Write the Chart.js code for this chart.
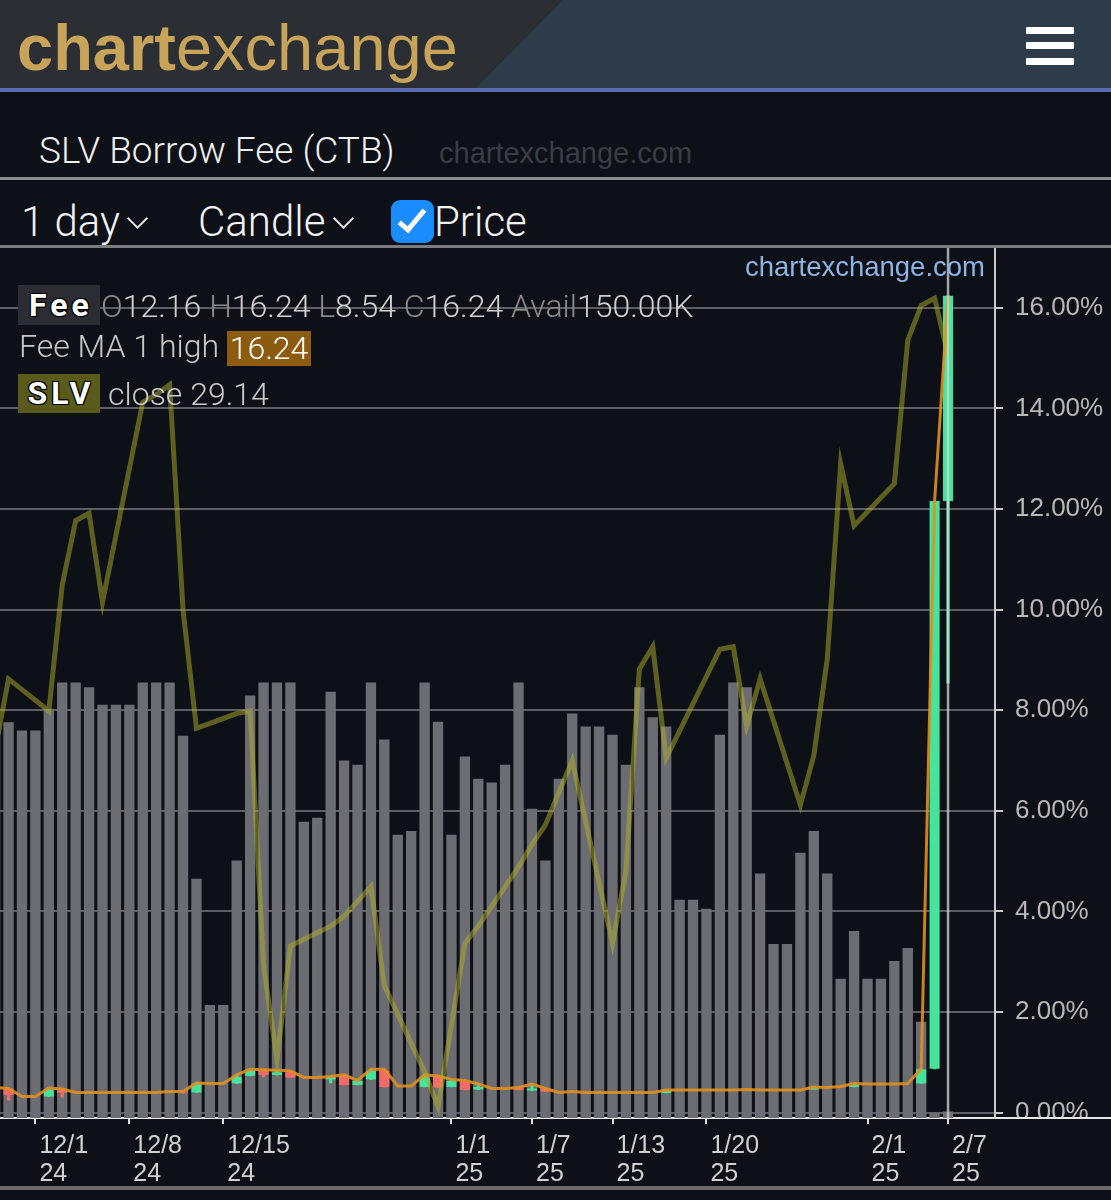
<!DOCTYPE html>
<html>
<head>
<meta charset="utf-8">
<script src="https://cdn.jsdelivr.net/npm/chart.js@4.4.1/dist/chart.umd.min.js"></script>
<style>
  html, body { margin: 0; padding: 0; background: #0d1017; width: 1111px; height: 1200px; overflow: hidden; }
  body { position: relative; font-family: Roboto, "Liberation Sans", sans-serif; }
  .abs { position: absolute; white-space: nowrap; }
  #hdr { left: 0; top: 0; width: 1111px; height: 88px; background: #2e3b4b; }
  #hdrL { left: 0; top: 0; width: 1111px; height: 88px; background: #2b2e33; clip-path: polygon(0 0, 563px 0, 476px 88px, 0 88px); }
  #logo { left: 17px; top: 15px; font: 65px/65px "Liberation Sans", sans-serif; color: #c7a45a; }
  #logo b { font-weight: bold; }
  .burger { left: 1026px; width: 48px; height: 7px; background: #fff; border-radius: 1px; }
  .chev { width: 13px; height: 13px; border-right: 2px solid #e6e6e6; border-bottom: 2px solid #e6e6e6; transform: rotate(45deg); }
  .badge { color: #fff; font: bold 32px/40px Roboto, sans-serif; letter-spacing: 4px; text-align: center; box-sizing: border-box; padding-left: 4px;
           text-shadow: -1px -1px 0 #000, 1px -1px 0 #000, -1px 1px 0 #000, 1px 1px 0 #000, 0 0 2px #000; }
  .lg { font: 300 32px/32px Roboto, sans-serif; color: #d0d0d0; }
  .lg .k { color: #8a8a8a; }
  #wrap { position: absolute; left: -25px; top: 248px; width: 1136px; height: 940px; }
</style>
</head>
<body>
<div id="hdr" class="abs"></div>
<div id="hdrL" class="abs"></div>
<div id="logo" class="abs"><b>chart</b>exchange</div>
<div class="abs burger" style="top:27px"></div>
<div class="abs burger" style="top:42px"></div>
<div class="abs burger" style="top:58px"></div>
<div class="abs" style="left:0;top:88px;width:1111px;height:4px;background:#5b6db0"></div>

<div class="abs" style="left:39px;top:132px;font:300 37px/37px Roboto,sans-serif;color:#f0f0f0">SLV Borrow Fee (CTB)</div>
<div class="abs" style="left:439px;top:139px;font:29px/29px 'Liberation Sans',sans-serif;color:#3a3d44">chartexchange.com</div>
<div class="abs" style="left:0;top:177px;width:1111px;height:3px;background:#8a8c90"></div>

<div class="abs" style="left:21px;top:201px;font:300 42px/42px Roboto,sans-serif;color:#f2f2f2">1 day</div>
<div class="abs chev" style="left:130px;top:211px"></div>
<div class="abs" style="left:198px;top:201px;font:300 42px/42px Roboto,sans-serif;color:#f2f2f2">Candle</div>
<div class="abs chev" style="left:336px;top:211px"></div>
<div class="abs" style="left:391px;top:200px;width:43px;height:43px;background:#1a8cff;border-radius:9px"></div>
<div class="abs" style="left:405px;top:204px;width:9px;height:23px;border-right:5px solid #fff;border-bottom:5px solid #fff;transform:rotate(40deg)"></div>
<div class="abs" style="left:434px;top:201px;font:300 42px/42px Roboto,sans-serif;color:#f2f2f2">Price</div>
<div class="abs" style="left:0;top:245px;width:1111px;height:3px;background:#7a7c80"></div>

<div id="wrap"><canvas id="chart"></canvas></div>

<div class="abs" style="left:745px;top:253px;font:27.5px/27.5px 'Liberation Sans',sans-serif;color:#8db4e2">chartexchange.com</div>

<div class="abs badge" style="left:18px;top:285px;width:82px;height:40px;background:#2b2d32">Fee</div>
<div class="abs lg" id="row1" style="left:101px;top:290px"></div>
<div class="abs lg" style="left:19px;top:330px;color:#c8c8c8">Fee MA 1 high</div>
<div class="abs lg" id="row2" style="left:227px;top:331px;width:84px;height:35px;line-height:35px;text-align:center;background:#8d5b0f;color:#fff"></div>
<div class="abs badge" style="left:18px;top:374px;width:82px;height:39px;line-height:39px;background:#5a5a1b">SLV</div>
<div class="abs lg" id="row3" style="left:108px;top:378px;color:#c8c8c8"></div>

<div class="abs" style="left:995px;top:1117px;width:116px;height:2px;background:#e8e8e8"></div>
<div class="abs" style="left:997px;top:1119px;width:114px;height:66px;background:#0d1017"></div>
<div class="abs" style="left:0;top:1186px;width:1111px;height:4px;background:#6b6b6b"></div>

<script>
// one category per calendar day, 11/27/24 .. 2/10/25
const labels = [
  '11/27','11/28','11/29','11/30',
  '12/1','12/2','12/3','12/4','12/5','12/6','12/7','12/8','12/9','12/10','12/11','12/12','12/13','12/14','12/15','12/16',
  '12/17','12/18','12/19','12/20','12/21','12/22','12/23','12/24','12/25','12/26','12/27','12/28','12/29','12/30','12/31',
  '1/1','1/2','1/3','1/4','1/5','1/6','1/7','1/8','1/9','1/10','1/11','1/12','1/13','1/14','1/15','1/16',
  '1/17','1/18','1/19','1/20','1/21','1/22','1/23','1/24','1/25','1/26','1/27','1/28','1/29','1/30','1/31',
  '2/1','2/2','2/3','2/4','2/5','2/6','2/7','2/8','2/9','2/10'
];
const tickDates = ['12/1','12/8','12/15','1/1','1/7','1/13','1/20','2/1','2/7'];
const tickYears = ['24','24','24','25','25','25','25','25','25'];
const feeTicks = [0, 2, 4, 6, 8, 10, 12, 14, 16];
const crosshairDate = '2/7';

// borrow fee candles (%)
const feeOpen = [.50,.50,.48,.32,.32,.32,.45,.40,.40,.40,.40,.40,.40,.40,.40,.42,.40,.58,.58,.58,.73,.83,.75,.80,.70,.70,.66,.73,.55,.66,.83,.53,.53,.51,.73,.51,.61,.46,.48,.48,.49,.44,.48,.40,.41,.40,.40,.40,.40,.40,.40,.39,.45,.45,.45,.45,.45,.46,.45,.45,.45,.45,.46,.50,.52,.51,.57,.57,.57,.58,.58,.87,12.16];
const feeHigh = [.52,.50,.48,.32,.32,.49,.47,.40,.40,.40,.40,.40,.40,.40,.42,.42,.59,.58,.58,.75,.86,.85,.84,.83,.70,.70,.72,.75,.64,.86,.86,.53,.53,.75,.73,.66,.64,.57,.48,.48,.50,.57,.48,.40,.42,.40,.40,.40,.40,.40,.40,.45,.45,.45,.45,.45,.45,.46,.45,.45,.45,.45,.51,.50,.52,.58,.57,.57,.57,.58,.87,12.16,16.24];
const feeLow = [.48,.48,.25,.32,.32,.32,.31,.40,.40,.40,.40,.40,.40,.40,.40,.39,.40,.58,.58,.58,.73,.71,.75,.70,.70,.70,.59,.55,.55,.66,.51,.53,.53,.51,.50,.51,.45,.46,.48,.48,.45,.44,.42,.40,.40,.40,.40,.40,.40,.40,.40,.39,.45,.45,.45,.45,.45,.45,.45,.45,.45,.45,.46,.50,.50,.51,.57,.57,.57,.58,.58,.87,8.54];
const feeClose = [.50,.48,.35,.32,.32,.46,.40,.40,.40,.40,.40,.40,.40,.40,.42,.40,.58,.58,.58,.71,.83,.75,.80,.70,.70,.70,.71,.55,.63,.83,.51,.53,.53,.70,.50,.63,.45,.51,.48,.48,.45,.48,.42,.40,.40,.40,.40,.40,.40,.40,.40,.45,.45,.45,.45,.45,.45,.45,.45,.45,.45,.45,.50,.50,.50,.57,.57,.57,.57,.58,.86,12.16,16.24];

// shares available to borrow (K)
const avail = [9100,9090,9100,8910,8910,9410,10010,10010,9900,9500,9500,9500,10010,10010,10010,8790,5500,2600,2600,5920,
  9710,10010,10010,10010,6810,6900,9800,8220,8120,10010,8700,6510,6600,10010,9110,
  6510,8310,7800,7710,8120,10010,7110,5920,7800,9300,9000,9000,8810,8120,9900,9210,
  9000,5020,5020,4810,8810,10010,9900,5620,4000,4000,6100,6600,5620,3200,4300,
  3200,3200,3610,3910,2210,120,150];

// SLV close, trading days only
const price = [27.26,null,27.83,null,null,27.70,28.21,28.47,28.50,28.14,null,null,28.95,28.98,29.02,28.11,27.63,null,null,27.69,
  27.70,26.67,26.29,26.75,null,null,26.83,26.87,null,26.99,26.59,null,null,26.24,26.10,
  null,26.76,26.83,null,null,27.07,27.16,27.24,null,27.50,null,null,26.76,27.05,27.87,27.96,
  27.51,null,null,null,27.95,27.96,27.64,27.83,null,null,27.32,27.52,27.91,28.70,28.45,
  null,null,28.62,29.20,29.34,29.37,29.14];

const UP = '#45e39c', DOWN = '#f86a6a';
const candleColor = feeOpen.map((o, i) => feeClose[i] >= o ? UP : DOWN);

// legend texts from the last point
const last = feeClose.length - 1;
document.getElementById('row1').innerHTML =
  '<span class="k">O</span>' + feeOpen[last].toFixed(2) + ' <span class="k">H</span>' + feeHigh[last].toFixed(2) +
  ' <span class="k">L</span>' + feeLow[last].toFixed(2) + ' <span class="k">C</span>' + feeClose[last].toFixed(2) +
  ' <span class="k">Avail</span>' + avail[last].toFixed(2) + 'K';
document.getElementById('row2').textContent = feeHigh[last].toFixed(2);
document.getElementById('row3').textContent = 'close ' + price[last].toFixed(2);

const crosshair = {
  id: 'crosshair',
  afterDatasetsDraw(chart) {
    const x = chart.scales.x.getPixelForValue(labels.indexOf(crosshairDate));
    const { top, bottom } = chart.chartArea;
    const ctx = chart.ctx;
    ctx.save();
    ctx.strokeStyle = 'rgba(215,215,215,0.75)';
    ctx.lineWidth = 2.5;
    ctx.beginPath();
    ctx.moveTo(x, top);
    ctx.lineTo(x, bottom + 2);
    ctx.stroke();
    ctx.restore();
  }
};

new Chart(document.getElementById('chart'), {
  data: {
    labels: labels,
    datasets: [
      {
        type: 'bar', data: avail, yAxisID: 'yAvail', order: 5, grouped: false,
        backgroundColor: '#6c6d72', barPercentage: 0.77, categoryPercentage: 1
      },
      {
        type: 'bar', data: feeLow.map((l, i) => [l, feeHigh[i]]), yAxisID: 'yFee', order: 4, grouped: false,
        backgroundColor: candleColor, barThickness: 2.5
      },
      {
        type: 'bar', data: feeOpen.map((o, i) => [o, feeClose[i]]), yAxisID: 'yFee', order: 3, grouped: false,
        backgroundColor: candleColor, barPercentage: 0.75, categoryPercentage: 1
      },
      {
        type: 'line', data: feeHigh, yAxisID: 'yFee', order: 2,
        borderColor: 'rgba(225,142,30,0.9)', borderWidth: 3, pointRadius: 0, tension: 0
      },
      {
        type: 'line', data: price, yAxisID: 'yPrice', order: 1, spanGaps: true,
        borderColor: 'rgba(175,175,40,0.5)', borderWidth: 5, pointRadius: 0, tension: 0, borderJoinStyle: 'miter'
      }
    ]
  },
  options: {
    responsive: true,
    maintainAspectRatio: false,
    animation: false,
    events: [],
    layout: { padding: 0 },
    plugins: { legend: { display: false }, tooltip: { enabled: false } },
    scales: {
      x: {
        type: 'category',
        offset: true,
        grid: {
          offset: false,
          drawOnChartArea: false,
          tickLength: 6,
          lineWidth: 2,
          color: ctx => tickDates.includes(labels[ctx.index]) ? '#e0e0e0' : 'rgba(0,0,0,0)'
        },
        border: { display: true, color: '#e8e8e8', width: 2 },
        ticks: {
          autoSkip: false, maxRotation: 0, minRotation: 0,
          align: 'start', labelOffset: 4, padding: 8,
          color: '#d0d0d0',
          font: { family: 'Liberation Sans', size: 25, lineHeight: 1.12 },
          callback: (v, i) => {
            const k = tickDates.indexOf(labels[i]);
            return k < 0 ? '' : [tickDates[k], tickYears[k]];
          }
        },
        afterFit: s => { s.height = 70; s.paddingLeft = 0; s.paddingRight = 0; }
      },
      yFee: {
        position: 'right',
        min: -0.107, max: 17.19,
        z: 1,
        afterBuildTicks: s => { s.ticks = feeTicks.map(v => ({ value: v })); },
        afterFit: s => { s.width = 116; s.paddingTop = 0; s.paddingBottom = 0; },
        grid: { color: 'rgba(255,255,255,0.33)', lineWidth: 2, tickLength: 8, tickColor: '#c8c8c8' },
        border: { display: true, color: '#c8c8c8', width: 2 },
        ticks: {
          padding: 12, color: '#b8b8b8',
          font: { family: 'Liberation Sans', size: 26 },
          callback: v => v.toFixed(2) + '%'
        }
      },
      yPrice: { display: false, min: 26.054, max: 29.573 },
      yAvail: { display: false, min: 0, max: 20000 }
    }
  },
  plugins: [crosshair]
});
</script>
</body>
</html>
